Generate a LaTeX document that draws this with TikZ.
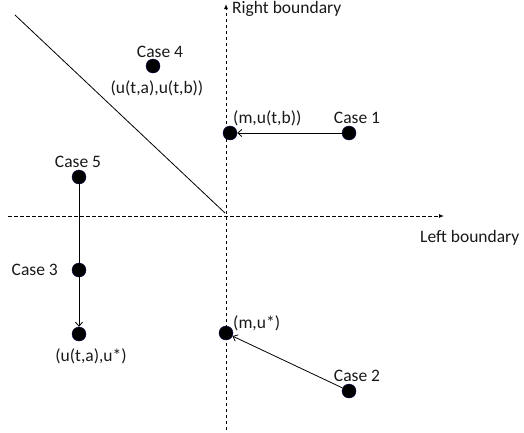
\documentclass[tikz,border=0pt]{standalone}
\usepackage{fontspec}
\setmainfont{Carlito}
\usetikzlibrary{arrows.meta}
\begin{document}
\begin{tikzpicture}[x=1pt,y=-1pt,
  axis/.style={line width=0.9pt, dash pattern=on 3.5pt off 2.5pt, -{Latex[length=5pt,width=4pt]}},
  conn/.style={line width=0.8pt, -{Straight Barb[length=4pt,width=7pt]}},
  plain/.style={line width=0.8pt},
  dot/.style={circle, fill=black, draw=black!70!blue, line width=0.4pt, minimum size=14pt, inner sep=0pt},
  lbl/.style={font=\fontsize{17.5}{20}\selectfont, inner sep=0pt, text=black!90}]
\useasboundingbox (0,0) rectangle (524,432);

% axes
\coordinate (vbot) at (226,430);
\coordinate (vtop) at (226,4);
\coordinate (hl) at (8,216);
\coordinate (hr) at (444,216);
\draw[axis] (vbot) -- (vtop);
\draw[axis] (hl) -- (hr);
\node[lbl, anchor=west] (rb) at (232,9) {Right boundary};
\node[lbl, anchor=west] (lb) at (420,238) {Left boundary};

% diagonal line
\coordinate (d1) at (15,15);
\coordinate (d2) at (225,213);
\draw[plain] (d1) -- (d2);

% points
\node[dot] (c4) at (153,66) {};
\node[dot] (mb) at (230,133) {};
\node[dot] (c1) at (349,133) {};
\node[dot] (c5) at (79,177) {};
\node[dot] (c3) at (79,270) {};
\node[dot] (ua) at (79,334) {};
\node[dot] (ms) at (226,333) {};
\node[dot] (c2) at (349,391) {};

% labels
\node[lbl] (l4) at (160,52) {Case 4};
\node[lbl] (l4b) at (157,88) {(u(t,a),u(t,b))};
\node[lbl, anchor=west] (lmb) at (233,118) {(m,u(t,b))};
\node[lbl] (l1) at (357,118) {Case 1};
\node[lbl] (l5) at (78,162) {Case 5};
\node[lbl, anchor=east] (l3) at (58,270) {Case 3};
\node[lbl] (lua) at (91,356) {(u(t,a),u*)};
\node[lbl, anchor=west] (lms) at (233,323) {(m,u*)};
\node[lbl] (l2) at (357,376) {Case 2};

% connectors
\draw[conn] (c1) -- (mb);
\draw[plain] (c5) -- (c3);
\draw[conn] (c3) -- (ua);
\draw[conn] (c2) -- (ms);
\end{tikzpicture}
\end{document}
